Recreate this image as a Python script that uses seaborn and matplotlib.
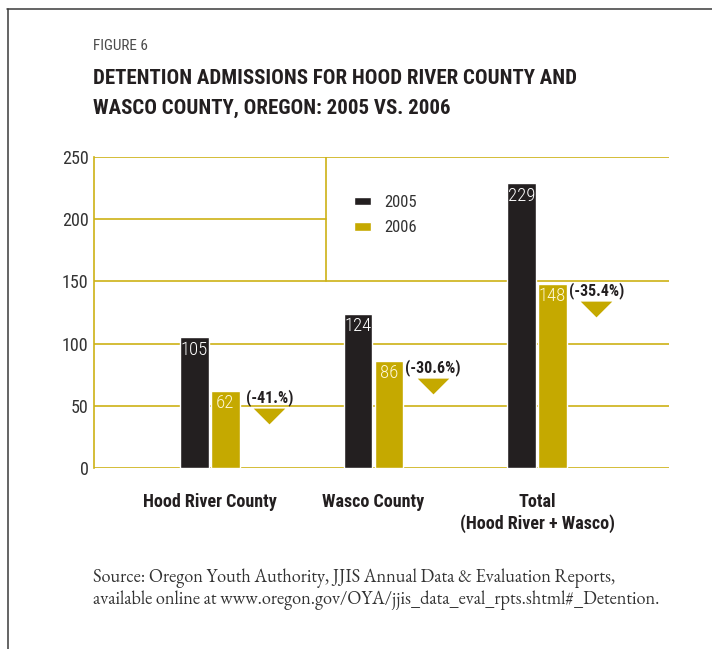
import matplotlib
matplotlib.use("Agg")
import matplotlib.pyplot as plt
from matplotlib.lines import Line2D
from matplotlib.path import Path
from matplotlib import transforms
import pandas as pd
import seaborn as sns

# --- data -------------------------------------------------------------
counties = ["Hood River County", "Wasco County", "Total\n(Hood River + Wasco)"]
years = ["2005", "2006"]
admissions_2005 = [105, 124, 229]
admissions_2006 = [62, 86, 148]
pct_change = ["(-41.%)", "(-30.6%)", "(-35.4%)"]
y_ticks = [0, 50, 100, 150, 200, 250]

df = pd.DataFrame({
    "county": counties * 2,
    "year": [years[0]] * 3 + [years[1]] * 3,
    "admissions": admissions_2005 + admissions_2006,
})

# --- style ------------------------------------------------------------
DARK = "#231f20"
GOLD = "#c5a900"
RULE = "#cdb215"
COND = ["Roboto Condensed", "Archivo Narrow", "DejaVu Sans"]
SERIF = ["EB Garamond", "Cormorant Garamond", "Liberation Serif", "DejaVu Serif"]

sns.set_style("white")
plt.rcParams["font.family"] = COND

W, H = 712, 649
fig = plt.figure(figsize=(W / 100, H / 100), dpi=100)
ax = fig.add_axes([94 / W, 1 - 468 / H, (669 - 94) / W, (468 - 157) / H])

sns.barplot(data=df, x="county", y="admissions", hue="year",
            palette=[DARK, GOLD], saturation=1, width=0.3755, gap=0.072,
            ax=ax, legend=True)

ax.set_xlim(-0.709, 2.807)
ax.set_ylim(0, 250)
ax.set_yticks(y_ticks)
ax.set_xlabel("")
ax.set_ylabel("")
ax.tick_params(axis="both", length=0)
ax.tick_params(axis="y", pad=4, labelsize=13, labelcolor="#333333")
ax.tick_params(axis="x", pad=18, labelsize=13, labelcolor=DARK)
for lbl in ax.get_xticklabels():
    lbl.set_fontweight("bold")
    lbl.set_linespacing(1.25)
    lbl.set_verticalalignment("top")

for side in ("top", "right", "bottom"):
    ax.spines[side].set_visible(False)
ax.spines["left"].set_color(RULE)
ax.spines["left"].set_linewidth(1.2)

# horizontal rules; the 200 rule stops at the legend panel
legend_left = (326 - 94) / (669 - 94)
for v in y_ticks:
    xmax = legend_left if v == 200 else 1.0
    ax.axhline(v, xmin=0, xmax=xmax, color=RULE, lw=1.2, zorder=0.5)
ax.axvline(legend_left * (2.807 + 0.709) - 0.709, ymin=150 / 250, ymax=1.0,
           color=RULE, lw=1.2, zorder=0.5)

# legend
sns.move_legend(ax, "upper left", bbox_to_anchor=(0.452, 0.878), frameon=False,
                title=None, fontsize=12, handlelength=1.0, handleheight=0.42,
                handletextpad=0.85, labelspacing=0.62, borderpad=0,
                borderaxespad=0)
for t in ax.get_legend().get_texts():
    t.set_color("#333333")

# value labels inside bars
for cont, fg in zip(ax.containers, ["white", "#fff8d8"]):
    for bar in cont:
        h = bar.get_height()
        ax.annotate(f"{h:.0f}", (bar.get_x() + bar.get_width() / 2, h),
                    xytext=(0, -2.5), textcoords="offset points",
                    ha="center", va="top", color=fg, fontsize=13.5,
                    fontweight="light")

# percent change with a downward marker beside each 2006 bar
tri = Path([(-1.0, 0.5), (1.0, 0.5), (0.0, -0.5), (-1.0, 0.5)],
           [Path.MOVETO, Path.LINETO, Path.LINETO, Path.CLOSEPOLY])
for bar, txt in zip(ax.containers[1], pct_change):
    cx = bar.get_x() + bar.get_width() / 2
    h = bar.get_height()
    ax.annotate(txt, (cx, h), xytext=(31.7, -5), textcoords="offset points",
                ha="center", va="center", color=DARK, fontsize=11.5,
                fontweight="bold")
    off = transforms.offset_copy(ax.transData, fig=fig, x=31.7, y=-18,
                                 units="points")
    ax.plot([cx], [h], marker=tri, markersize=22.7, color=GOLD,
            markeredgewidth=0, transform=off, clip_on=False)

# titles
fig.text(93 / W, 1 - 46 / H, "FIGURE 6", ha="left", va="center",
         fontsize=11, color="#4a4a4a")
fig.text(93 / W, 1 - 78 / H, "DETENTION ADMISSIONS FOR HOOD RIVER COUNTY AND",
         ha="left", va="center", fontsize=15, fontweight="bold", color=DARK)
fig.text(93 / W, 1 - 108 / H, "WASCO COUNTY, OREGON: 2005 VS. 2006",
         ha="left", va="center", fontsize=15, fontweight="bold", color=DARK)

# source note
fig.text(93 / W, 1 - 578 / H,
         "Source: Oregon Youth Authority, JJIS Annual Data & Evaluation Reports,",
         ha="left", va="center", fontsize=13.2, color="#333333", family=SERIF)
fig.text(93 / W, 1 - 600 / H,
         "available online at www.oregon.gov/OYA/jjis_data_eval_rpts.shtml#_Detention.",
         ha="left", va="center", fontsize=13.2, color="#333333", family=SERIF)

# page frame (top and left edges)
fig.add_artist(Line2D([7 / W, 1.0], [1 - 9 / H, 1 - 9 / H], color="#3a3a3a",
                      lw=1.1, transform=fig.transFigure))
fig.add_artist(Line2D([7.5 / W, 7.5 / W], [0.0, 1 - 9 / H], color="#3a3a3a",
                      lw=1.1, transform=fig.transFigure))

fig.savefig("out.png", dpi=100, facecolor="white")
